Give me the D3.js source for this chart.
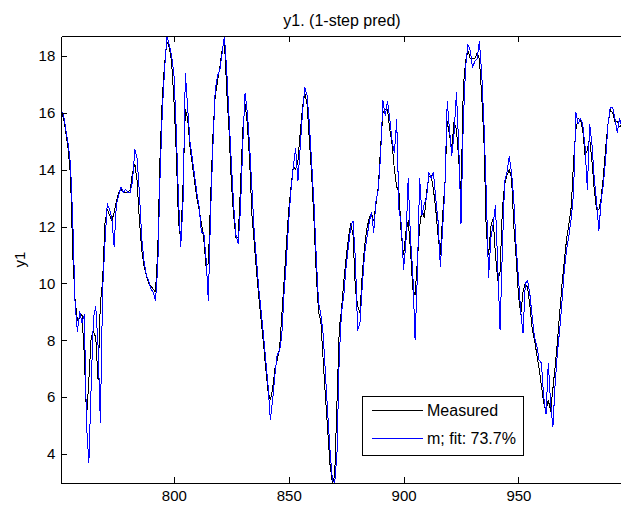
<!DOCTYPE html>
<html>
<head>
<meta charset="utf-8">
<script src="https://cdn.jsdelivr.net/npm/d3@7"></script>
<style>
  body { margin: 0; background: #fff; }
  svg { display: block; font-family: 'Liberation Sans', Arial, Helvetica, sans-serif; }
  .axis path, .axis line { stroke: #000; stroke-width: 1; shape-rendering: crispEdges; }
  .axis text { font-size: 15px; fill: #000; }
</style>
</head>
<body>
<div id="chart"></div>
<script>
// sample index of the first value
const firstSample = 751;

// measured output y1, samples 751..995
const measured = [
  16.05, 15.8, 15.3, 14.7, 13.8, 11.0, 9.4, 8.7, 8.8, 8.9,
  7.5, 5.3, 6.6, 8.1, 8.3, 8.1, 6.6, 9.3, 10.1, 12.1,
  12.6, 12.4, 12.2, 12.5, 12.9, 13.2, 13.3, 13.2, 13.2, 13.2,
  13.3, 13.9, 14.2, 13.6, 12.2, 11.2, 10.6, 10.3, 10.0, 9.9,
  9.8, 9.7, 11.2, 14.5, 16.6, 17.75, 18.5, 18.3, 17.8, 16.5,
  14.7, 12.2, 11.5, 13.5, 16.1, 15.8, 14.8, 14.2, 13.6, 13.0,
  12.6, 12.1, 11.6, 10.6, 10.7, 13.0, 15.2, 16.6, 17.1, 17.6,
  18.2, 18.55, 16.8, 15.4, 13.6, 12.4, 11.6, 11.6, 13.4, 15.4,
  16.3, 15.6, 14.3, 12.4, 11.4, 10.4, 9.5, 8.7, 7.9, 7.0,
  6.2, 5.9, 6.3, 7.0, 7.3, 7.7, 8.9, 10.1, 11.4, 12.6,
  13.4, 14.1, 14.0, 14.3, 15.3, 16.2, 16.7, 16.3, 15.0, 13.8,
  12.2, 10.3, 9.0, 8.65, 7.3, 6.0, 4.8, 3.6, 3.0, 3.2,
  5.8, 8.4, 9.1, 10.1, 10.9, 11.6, 12.1, 11.7, 9.8, 9.2,
  8.95, 10.3, 11.3, 11.9, 12.3, 12.45, 12.2, 12.8, 13.4, 14.8,
  16.0, 16.1, 16.1, 15.4, 14.9, 14.0, 13.4, 13.2, 11.7, 11.0,
  11.8, 12.2, 11.2, 9.8, 9.6, 10.8, 12.0, 12.6, 12.3, 13.2,
  13.75, 13.8, 13.3, 12.6, 11.7, 11.0, 12.4, 13.5, 15.7, 15.2,
  14.75, 15.7, 15.4, 14.4, 13.0, 16.9, 17.8, 18.2, 17.9, 17.9,
  17.9, 18.1, 17.9, 16.6, 15.0, 11.8, 11.0, 12.0, 12.3, 11.0,
  10.1, 10.4, 12.6, 13.5, 13.8, 14.0, 13.7, 12.0, 10.9, 9.6,
  8.9, 9.7, 10.0, 9.85, 9.2, 8.4, 8.0, 7.5, 7.0, 6.4,
  5.8, 5.5, 5.9, 5.5, 6.3, 7.1, 8.0, 9.0, 10.0, 10.8,
  11.6, 12.1, 12.7, 14.3, 15.4, 15.8, 15.75, 15.4, 14.5, 14.7,
  15.1, 14.3, 13.3, 12.6, 12.6, 13.0, 13.8, 14.8, 15.6, 16.1,
  16.0, 15.7, 15.7, 15.5, 15.6
];

// model m, 1-step ahead prediction, samples 751..995
const predicted = [
  16.1, 15.9, 15.4, 14.9, 14.2, 12.2, 9.3, 8.3, 9.0, 8.6,
  8.9, 5.0, 3.7, 6.4, 8.8, 9.2, 7.8, 5.1, 9.8, 11.4,
  12.8, 12.6, 12.3, 11.3, 12.8, 13.1, 13.4, 13.2, 13.3, 13.2,
  13.2, 13.6, 14.7, 14.4, 13.2, 11.6, 10.8, 10.3, 10.1, 9.8,
  9.7, 9.4, 10.6, 13.8, 16.1, 17.6, 18.7, 18.4, 18.0, 17.4,
  15.5, 13.0, 11.3, 12.9, 17.4, 16.2, 15.0, 14.4, 13.8, 13.2,
  12.7, 11.8, 11.8, 10.9, 9.4, 12.5, 14.8, 16.8, 17.3, 17.5,
  18.1, 18.7, 17.5, 15.9, 14.3, 12.8, 11.7, 11.4, 12.6, 14.9,
  16.7, 16.0, 14.8, 13.3, 11.8, 10.8, 9.8, 9.0, 8.2, 7.3,
  6.4, 5.2, 5.9, 6.8, 7.5, 7.6, 8.2, 9.7, 10.8, 12.2,
  13.3, 14.1, 14.75, 13.6, 14.8, 16.0, 16.9, 16.6, 15.6, 14.2,
  12.8, 10.9, 9.3, 8.9, 8.2, 6.8, 5.4, 4.1, 3.1, 2.97,
  4.0, 7.4, 9.0, 9.6, 10.6, 11.3, 12.0, 12.2, 10.9, 8.35,
  8.6, 9.9, 11.0, 11.6, 12.1, 12.5, 11.8, 12.9, 13.3, 14.5,
  16.45, 15.9, 16.4, 15.8, 15.0, 14.6, 15.75, 12.6, 12.1, 10.5,
  11.4, 13.7, 11.6, 10.4, 8.0, 10.3, 13.7, 12.4, 12.8, 13.0,
  13.9, 13.7, 13.9, 13.0, 12.2, 10.6, 11.9, 13.4, 16.4, 15.4,
  14.5, 15.3, 16.7, 14.9, 12.1, 15.7, 17.6, 18.4, 18.2, 17.6,
  17.8, 17.9, 18.5, 17.4, 15.6, 13.2, 10.2, 11.6, 12.1, 12.75,
  10.6, 8.35, 11.2, 13.6, 13.9, 14.45, 13.9, 12.9, 11.3, 10.2,
  9.0, 8.25, 10.0, 10.1, 9.6, 8.8, 8.1, 7.8, 7.3, 7.2,
  6.0, 5.4, 7.2, 5.8, 4.95, 6.5, 7.6, 8.4, 9.4, 10.5,
  11.2, 11.7, 12.3, 13.2, 16.0, 15.6, 15.8, 15.6, 14.8, 13.3,
  15.6, 14.9, 13.7, 12.9, 11.85, 12.9, 13.5, 14.4, 15.6, 16.2,
  16.2, 15.8, 15.3, 15.8, 15.5
];

const xTicks = [800, 850, 900, 950];
const yTicks = [4, 6, 8, 10, 12, 14, 16, 18];
const xDomain = [751, 1000];
const yDomain = [2.97, 18.70];
const legendLabels = ['Measured', 'm; fit: 73.7%'];
const seriesColors = ['#000000', '#0000ff'];

const size = { width: 621, height: 511 };
const plot = { left: 61.3, top: 36, right: 633.3, bottom: 483.3 };

const x = d3.scaleLinear().domain(xDomain).range([plot.left, plot.right]);
const y = d3.scaleLinear().domain(yDomain).range([plot.bottom, plot.top]);

const svg = d3.select('#chart')
  .append('svg')
  .attr('width', size.width)
  .attr('height', size.height);

svg.append('rect')
  .attr('width', size.width)
  .attr('height', size.height)
  .attr('fill', '#fff');

svg.append('clipPath')
  .attr('id', 'plot-clip')
  .append('rect')
  .attr('x', plot.left)
  .attr('y', plot.top)
  .attr('width', plot.right - plot.left)
  .attr('height', plot.bottom - plot.top);

const line = d3.line()
  .x((d, i) => x(firstSample + i))
  .y(d => y(d));

const lines = svg.append('g').attr('clip-path', 'url(#plot-clip)');

// aliased strokes, like the old MATLAB renderer
[measured, predicted].forEach((series, k) => {
  lines.append('path')
    .datum(series)
    .attr('fill', 'none')
    .attr('stroke', seriesColors[k])
    .attr('stroke-width', 1)
    .attr('stroke-linejoin', 'round')
    .attr('shape-rendering', 'crispEdges')
    .attr('d', line);
});

// bottom axis, ticks pointing inward
svg.append('g')
  .attr('class', 'axis x-axis')
  .attr('transform', 'translate(0,' + plot.bottom + ')')
  .call(d3.axisBottom(x).tickValues(xTicks).tickSizeInner(-6).tickSizeOuter(0).tickPadding(5))
  .selectAll('text')
  .attr('y', 7)
  .attr('dy', '0.71em');

// top axis, ticks only
svg.append('g')
  .attr('class', 'axis')
  .attr('transform', 'translate(0,' + plot.top + ')')
  .call(d3.axisTop(x).tickValues(xTicks).tickSizeInner(-6).tickSizeOuter(0).tickFormat(''));

// left axis
svg.append('g')
  .attr('class', 'axis y-axis')
  .attr('transform', 'translate(' + plot.left + ',0)')
  .call(d3.axisLeft(y).tickValues(yTicks).tickSizeInner(-5.5).tickSizeOuter(0).tickPadding(6));

svg.append('text')
  .attr('x', 342)
  .attr('y', 26)
  .attr('text-anchor', 'middle')
  .style('font-size', '16px')
  .text('y1. (1-step pred)');

svg.append('text')
  .attr('transform', 'translate(25,' + ((plot.top + plot.bottom) / 2) + ') rotate(-90)')
  .attr('text-anchor', 'middle')
  .style('font-size', '15px')
  .text('y1');

// legend
const legend = svg.append('g').attr('class', 'legend');

legend.append('rect')
  .attr('x', 362.5)
  .attr('y', 396.5)
  .attr('width', 161)
  .attr('height', 59)
  .attr('fill', '#fff')
  .attr('stroke', '#000')
  .attr('stroke-width', 1)
  .attr('shape-rendering', 'crispEdges');

legendLabels.forEach((label, k) => {
  const ly = 410.5 + k * 27.8;
  legend.append('line')
    .attr('x1', 372)
    .attr('x2', 423)
    .attr('y1', ly)
    .attr('y2', ly)
    .attr('stroke', seriesColors[k])
    .attr('stroke-width', 1)
    .attr('shape-rendering', 'crispEdges');
  legend.append('text')
    .attr('x', 427)
    .attr('y', ly)
    .attr('dy', '0.35em')
    .style('font-size', '16px')
    .text(label);
});
</script>
</body>
</html>
